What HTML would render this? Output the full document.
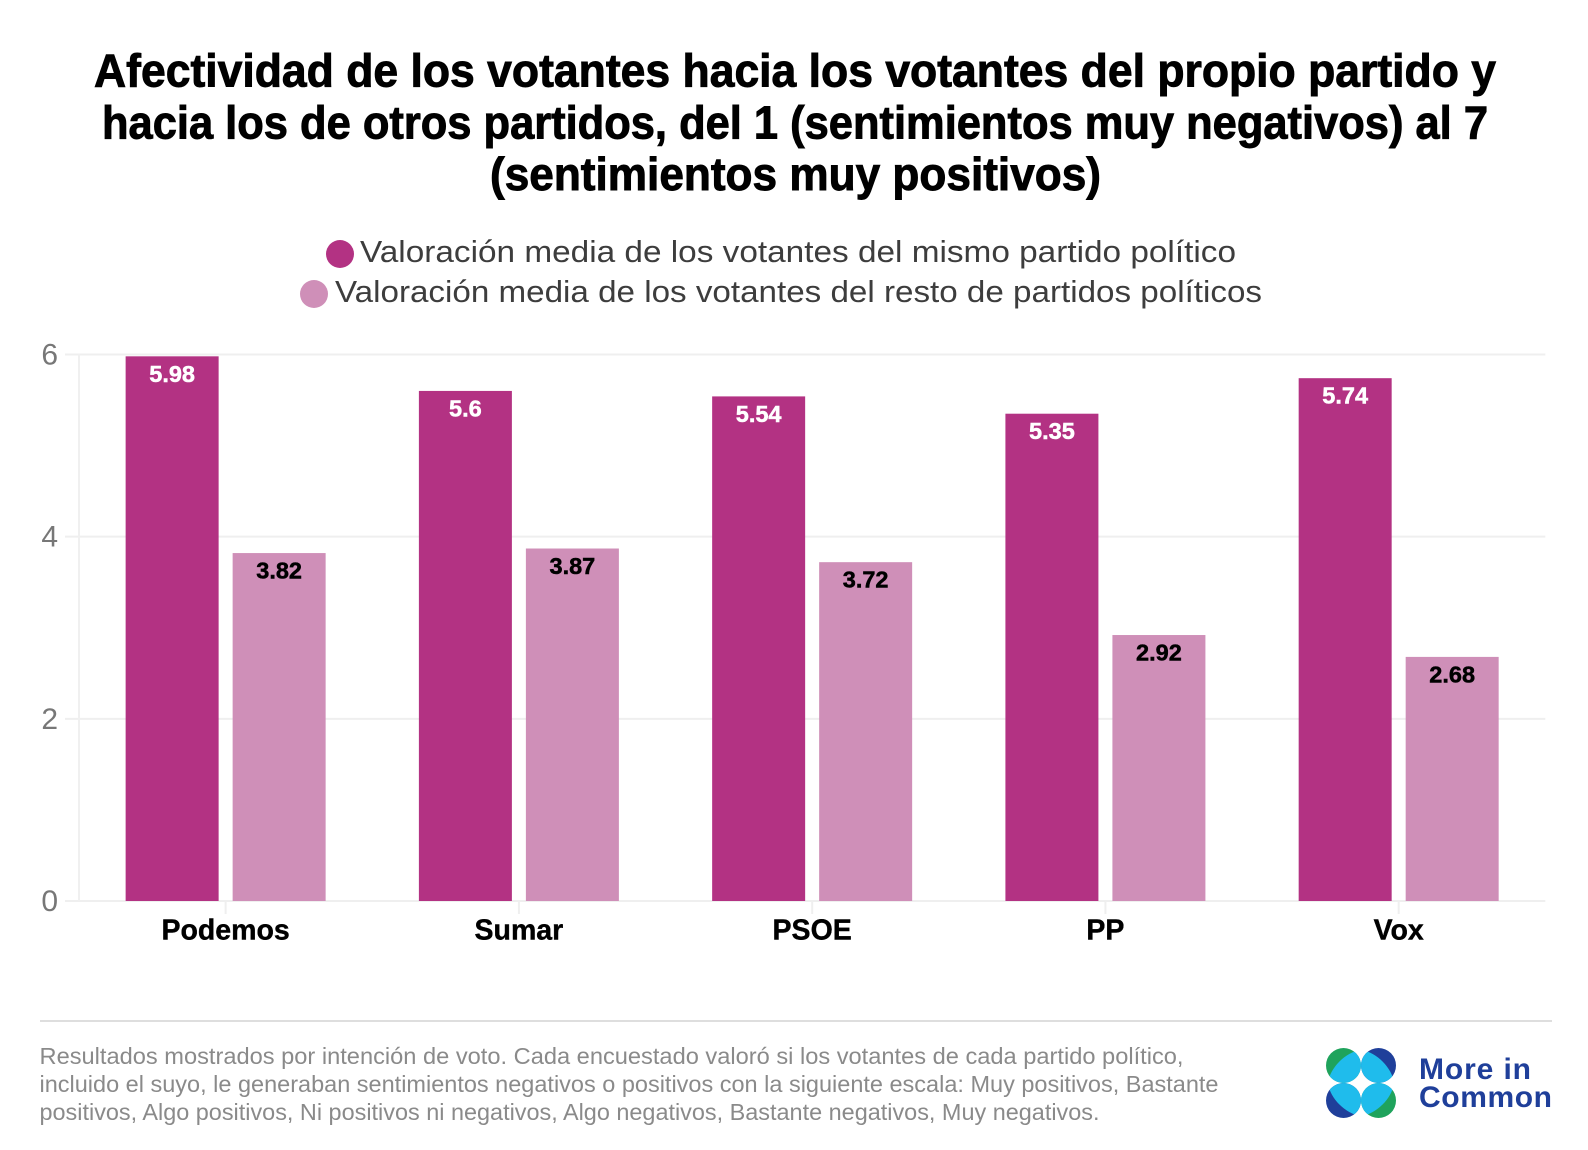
<!DOCTYPE html>
<html lang="es">
<head>
<meta charset="utf-8">
<title>Afectividad de los votantes</title>
<style>
html,body{margin:0;padding:0;background:#fff;width:1588px;height:1150px;overflow:hidden}
svg{display:block}
text{font-family:"Liberation Sans",sans-serif}
.title{font-size:46px;font-weight:700;fill:#000;stroke:#000;stroke-width:.9px;text-anchor:start}
.legend{font-size:31px;fill:#3d3d3d}
.note{font-size:23px;fill:#8a8a8a}
.logo-text{font-size:30px;font-weight:700;fill:#1f3f9a}
</style>
</head>
<body>
<svg id="chart" xmlns="http://www.w3.org/2000/svg" width="1588" height="1150" viewBox="0 0 1588 1150">
  <rect x="0" y="0" width="1588" height="1150" fill="#fff"/>
  <g>
    <text class="title" x="94" y="86.5" textLength="1402" lengthAdjust="spacingAndGlyphs">Afectividad de los votantes hacia los votantes del propio partido y</text>
    <text class="title" x="102" y="138.5" textLength="1386" lengthAdjust="spacingAndGlyphs">hacia los de otros partidos, del 1 (sentimientos muy negativos) al 7</text>
    <text class="title" x="490" y="190" textLength="611" lengthAdjust="spacingAndGlyphs">(sentimientos muy positivos)</text>
  </g>
  <g>
    <g>
      <circle cx="340" cy="254" r="14" fill="#b33283"/>
      <text class="legend" x="360" y="262" textLength="876" lengthAdjust="spacingAndGlyphs">Valoración media de los votantes del mismo partido político</text>
    </g>
    <g>
      <circle cx="314" cy="294" r="14" fill="#cf8fb8"/>
      <text class="legend" x="335" y="302" textLength="927" lengthAdjust="spacingAndGlyphs">Valoración media de los votantes del resto de partidos políticos</text>
    </g>
  </g>
  <g id="plot"></g>
  <line x1="40" x2="1552" y1="1021" y2="1021" stroke="#dedede" stroke-width="2"/>
  <g>
    <text class="note" x="39.5" y="1064" textLength="1144" lengthAdjust="spacingAndGlyphs">Resultados mostrados por intención de voto. Cada encuestado valoró si los votantes de cada partido político,</text>
    <text class="note" x="39.5" y="1092" textLength="1179" lengthAdjust="spacingAndGlyphs">incluido el suyo, le generaban sentimientos negativos o positivos con la siguiente escala: Muy positivos, Bastante</text>
    <text class="note" x="39.5" y="1120" textLength="1060" lengthAdjust="spacingAndGlyphs">positivos, Algo positivos, Ni positivos ni negativos, Algo negativos, Bastante negativos, Muy negativos.</text>
  </g>
  <defs>
    <clipPath id="clip-tl"><circle cx="1343.5" cy="1065.5" r="17.5"/></clipPath>
    <clipPath id="clip-tr"><circle cx="1378.5" cy="1065.5" r="17.5"/></clipPath>
    <clipPath id="clip-bl"><circle cx="1343.5" cy="1100.5" r="17.5"/></clipPath>
    <clipPath id="clip-br"><circle cx="1378.5" cy="1100.5" r="17.5"/></clipPath>
  </defs>
  <g>
    <circle cx="1343.5" cy="1065.5" r="17.5" fill="#1fa35c"/>
    <g clip-path="url(#clip-tl)"><ellipse cx="1355" cy="1077" rx="32" ry="22" transform="rotate(-45 1355 1077)" fill="#1fbcec"/></g>
    <circle cx="1378.5" cy="1065.5" r="17.5" fill="#1f3f9a"/>
    <g clip-path="url(#clip-tr)"><ellipse cx="1367" cy="1077" rx="32" ry="22" transform="rotate(45 1367 1077)" fill="#1fbcec"/></g>
    <circle cx="1343.5" cy="1100.5" r="17.5" fill="#1f3f9a"/>
    <g clip-path="url(#clip-bl)"><ellipse cx="1355" cy="1089" rx="32" ry="22" transform="rotate(45 1355 1089)" fill="#1fbcec"/></g>
    <circle cx="1378.5" cy="1100.5" r="17.5" fill="#1fa35c"/>
    <g clip-path="url(#clip-br)"><ellipse cx="1367" cy="1089" rx="32" ry="22" transform="rotate(-45 1367 1089)" fill="#1fbcec"/></g>
    <text class="logo-text" x="1419" y="1079" textLength="112" lengthAdjust="spacing">More in</text>
    <text class="logo-text" x="1419" y="1107" textLength="133" lengthAdjust="spacing">Common</text>
  </g>
</svg>
<script>
const categories = ['Podemos', 'Sumar', 'PSOE', 'PP', 'Vox'];
const sameParty = [5.98, 5.6, 5.54, 5.35, 5.74];
const otherParties = [3.82, 3.87, 3.72, 2.92, 2.68];
const yTicks = [0, 2, 4, 6];

const NS = 'http://www.w3.org/2000/svg';
const plot = document.getElementById('plot');
const PLOT_LEFT = 79, PLOT_RIGHT = 1545.3, PLOT_BOTTOM = 901, PLOT_TOP = 354.5, Y_MAX = 6;
const BAR_W = 93, BAR_GAP = 7;

function yScale(v) {
  return PLOT_BOTTOM - (v / Y_MAX) * (PLOT_BOTTOM - PLOT_TOP);
}
function xCenter(i) {
  const band = (PLOT_RIGHT - PLOT_LEFT) / categories.length;
  return PLOT_LEFT + band * (i + 0.5);
}
function make(tag, attrs, content) {
  const el = document.createElementNS(NS, tag);
  for (const k in attrs) el.setAttribute(k, attrs[k]);
  if (content !== undefined) el.textContent = content;
  plot.appendChild(el);
  return el;
}

yTicks.forEach(function (t) {
  const grid = make('line', {x1: 65, x2: PLOT_RIGHT, y1: yScale(t), y2: yScale(t), stroke: '#efefef', 'stroke-width': 2});
  
  
  const label = make('text', {x: 58, y: yScale(t) + 10, 'text-anchor': 'end', 'font-size': 30, fill: '#777777'}, String(t));
  
  
});

const yAxisLine = make('line', {x1: PLOT_LEFT, x2: PLOT_LEFT, y1: yScale(Y_MAX), y2: yScale(0), stroke: '#f0f0f0', 'stroke-width': 2});



function drawBar(seriesName, i, value, x, fill, textFill) {
  const top = yScale(value);
  const bar = make('rect', {x: x, y: top, width: BAR_W, height: yScale(0) - top, fill: fill});
  
  
  const label = make('text', {x: x + BAR_W / 2, y: top + 25.5, 'text-anchor': 'middle', 'font-size': 23.5, 'font-weight': 700, fill: textFill, stroke: textFill, 'stroke-width': 0.5}, String(value));
  
  
}

categories.forEach(function (name, i) {
  const c = xCenter(i);
  drawBar('same-party', i, sameParty[i], c - BAR_GAP - BAR_W, '#b33283', '#ffffff');
  drawBar('other-parties', i, otherParties[i], c + BAR_GAP, '#cf8fb8', '#000000');
  const tick = make('line', {x1: c, x2: c, y1: yScale(0), y2: yScale(0) + 13, stroke: '#efefef', 'stroke-width': 2});
  
  
  const label = make('text', {x: c, y: 939.5, 'text-anchor': 'middle', 'font-size': 28.5, 'font-weight': 700, fill: '#000000', stroke: '#000000', 'stroke-width': 0.4}, name);
  
  
});
</script>
</body>
</html>
